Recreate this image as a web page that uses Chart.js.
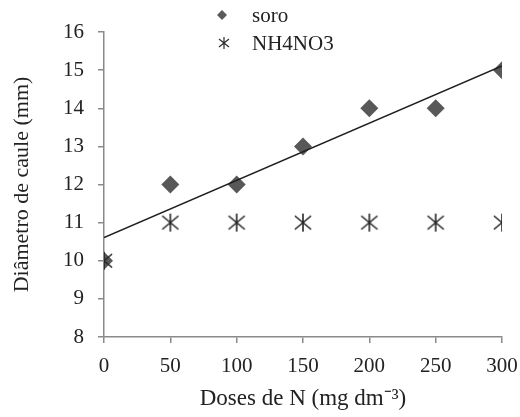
<!DOCTYPE html>
<html>
<head>
<meta charset="utf-8">
<script src="https://cdn.jsdelivr.net/npm/chart.js@4/dist/chart.umd.min.js"></script>
<style>
  html, body { margin: 0; background: #fff; }
  #wrap { width: 520px; height: 417px; }
</style>
</head>
<body>
<div id="wrap"><canvas id="graficoCaule"></canvas></div>
<script>
// dados
const doses = [0, 50, 100, 150, 200, 250, 300];
const soro = [10, 12, 12, 13, 14, 14, 15];
const nh4no3 = [10, 11, 11, 11, 11, 11, 11];
const xTicks = [0, 50, 100, 150, 200, 250, 300];
const yTicks = [8, 9, 10, 11, 12, 13, 14, 15, 16];
const seriesNames = ['soro', 'NH4NO3'];

const FONT = "'Liberation Serif', 'Times New Roman', serif";
const AXIS = '#8a8a8a';

// reta de regressao (minimos quadrados) da serie soro
function ajusteLinear(xs, ys) {
  const n = xs.length;
  const mx = xs.reduce((a, b) => a + b, 0) / n;
  const my = ys.reduce((a, b) => a + b, 0) / n;
  let sxy = 0, sxx = 0;
  xs.forEach((x, i) => { sxy += (x - mx) * (ys[i] - my); sxx += (x - mx) ** 2; });
  const a = sxy / sxx;
  return { a, b: my - a * mx };
}
const fit = ajusteLinear(doses, soro);
const xMin = Math.min(...doses), xMax = Math.max(...doses);
const trend = [xMin, xMax].map(x => ({ x, y: fit.b + fit.a * x }));

function asterisco(size, lw, color) {
  const c = document.createElement('canvas');
  c.width = size; c.height = size;
  const g = c.getContext('2d');
  const m = size / 2, r = size / 2 - 1;
  g.strokeStyle = color;
  g.lineWidth = lw;
  g.beginPath();
  g.moveTo(m, m - r); g.lineTo(m, m + r);
  g.moveTo(m - r * 0.9, m - r * 0.75); g.lineTo(m + r * 0.9, m + r * 0.75);
  g.moveTo(m + r * 0.9, m - r * 0.75); g.lineTo(m - r * 0.9, m + r * 0.75);
  g.stroke();
  return c;
}
const starBig = asterisco(20, 1.6, '#262626');

const legendaManual = {
  id: 'legendaManual',
  afterDraw(chart) {
    const ctx = chart.ctx;
    ctx.save();
    // losango
    ctx.fillStyle = '#5a5a5a';
    ctx.beginPath();
    ctx.moveTo(222, 10); ctx.lineTo(227, 15); ctx.lineTo(222, 20); ctx.lineTo(217, 15);
    ctx.closePath();
    ctx.fill();
    // asterisco
    ctx.strokeStyle = '#2b2b2b';
    ctx.lineWidth = 1.2;
    ctx.beginPath();
    ctx.moveTo(224, 37); ctx.lineTo(224, 49);
    ctx.moveTo(219, 39); ctx.lineTo(229, 47);
    ctx.moveTo(229, 39); ctx.lineTo(219, 47);
    ctx.stroke();
    ctx.fillStyle = '#222';
    ctx.font = '21px ' + FONT;
    ctx.textBaseline = 'alphabetic';
    ctx.fillText(seriesNames[0], 252, 22);
    ctx.fillText(seriesNames[1], 252, 50);
    ctx.restore();
  }
};

new Chart(document.getElementById('graficoCaule'), {
  type: 'scatter',
  data: {
    datasets: [
      {
        label: seriesNames[0],
        data: doses.map((d, i) => ({ x: d, y: soro[i] })),
        pointStyle: 'rectRot',
        pointRadius: 9,
        backgroundColor: '#585858',
        borderColor: '#585858',
        borderWidth: 0,
        order: 3
      },
      {
        label: seriesNames[1],
        data: doses.map((d, i) => ({ x: d, y: nh4no3[i] })),
        pointStyle: starBig,
        order: 2
      },
      {
        type: 'line',
        label: 'ajuste',
        data: trend,
        borderColor: '#1e1e1e',
        borderWidth: 1.5,
        pointRadius: 0,
        fill: false,
        order: 1
      }
    ]
  },
  options: {
    responsive: true,
    maintainAspectRatio: false,
    animation: false,
    layout: { padding: { top: 32, right: 18, left: 0, bottom: 0 } },
    plugins: { legend: { display: false }, tooltip: { enabled: false } },
    scales: {
      x: {
        type: 'linear',
        min: xTicks[0],
        max: xTicks[xTicks.length - 1],
        afterBuildTicks: s => { s.ticks = xTicks.map(v => ({ value: v })); },
        afterFit: s => { s.height = 80; s.paddingRight = 0; s.paddingLeft = 0; },
        border: { color: AXIS, width: 1.5 },
        grid: { drawOnChartArea: false, drawTicks: true, tickLength: 6, color: AXIS, lineWidth: 1.5 },
        ticks: { color: '#222', font: { family: FONT, size: 21 }, padding: 11 },
        title: {
          display: true,
          text: 'Doses de N (mg dm⁻³)',
          color: '#222',
          font: { family: FONT, size: 23 },
          padding: { top: 3 }
        }
      },
      y: {
        min: yTicks[0],
        max: yTicks[yTicks.length - 1],
        afterBuildTicks: s => { s.ticks = yTicks.map(v => ({ value: v })); },
        afterFit: s => { s.width = 104; s.paddingTop = 0; s.paddingBottom = 0; },
        border: { color: AXIS, width: 1.5 },
        grid: { drawOnChartArea: false, drawTicks: true, tickLength: 6, color: AXIS, lineWidth: 1.5 },
        ticks: { color: '#222', font: { family: FONT, size: 21 }, padding: 14 },
        title: {
          display: true,
          text: 'Diâmetro de caule (mm)',
          color: '#222',
          font: { family: FONT, size: 22 },
          padding: { top: 9 }
        }
      }
    }
  },
  plugins: [legendaManual]
});
</script>
</body>
</html>
